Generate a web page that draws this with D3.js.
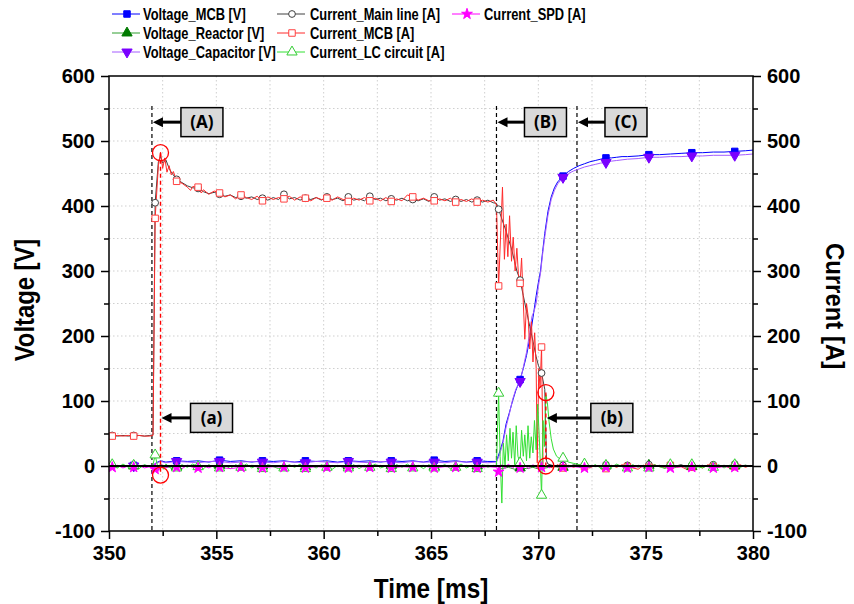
<!DOCTYPE html>
<html>
<head>
<meta charset="utf-8">
<script src="https://cdn.jsdelivr.net/npm/d3@7"></script>
<style>
  html, body { margin: 0; padding: 0; background: #ffffff; }
  svg { display: block; }
</style>
</head>
<body>
<svg id="chart" width="854" height="604"></svg>
<script>
// ---------- data: [time ms, value] ----------
const voltageMCB = [
  [350.0,0],[350.15,1],[350.65,0],[351.15,1],[351.65,0],[352.05,1],[352.2,5],[352.4,8],[352.65,6],[353.15,8],[353.65,7],[354.15,8],[354.65,6],
  [355.15,9],[355.65,7],[356.15,8],[356.65,6],[357.15,8],[357.65,7],[358.15,8],[358.65,6],[359.15,8],[359.65,7],[360.15,8],[360.65,6],
  [361.15,8],[361.65,7],[362.15,8],[362.65,6],[363.15,8],[363.65,7],[364.15,8],[364.65,6],[365.15,9],[365.65,7],[366.15,8],[366.65,6],
  [367.15,8],[367.65,7],[368.05,7],[368.2,22],[368.35,38],[368.5,65],[368.65,82],[368.8,100],[368.95,116],[369.15,133],[369.3,150],
  [369.45,170],[369.6,196],[369.75,228],[369.9,262],[370.0,282],[370.1,300],[370.2,330],[370.3,358],[370.45,392],[370.6,414],[370.75,428],
  [370.9,437],[371.15,446],[371.4,453],[371.65,458],[371.9,462],[372.15,465],[372.4,468],[372.65,470],[372.9,472],[373.15,474],[373.4,474],
  [373.65,475],[373.9,476],[374.15,476],[374.65,477],[375.15,479],[375.65,479],[376.15,480],[376.65,481],[377.15,482],[377.65,482],
  [378.15,483],[378.65,483],[379.15,484],[379.65,485],[380.0,486]
];
const voltageReactor = [
  [350.0,0],[350.15,0],[350.65,-1],[351.15,0],[351.65,1],[352.15,0],[352.65,-2],[353.15,-1],[353.65,1],[354.15,0],[354.65,-1],[355.15,1],
  [355.65,0],[356.15,-1],[356.65,1],[357.15,0],[357.65,-1],[358.15,0],[358.65,1],[359.15,-1],[359.65,0],[360.15,1],[360.65,-1],[361.15,0],
  [361.65,1],[362.15,-1],[362.65,0],[363.15,1],[363.65,-1],[364.15,0],[364.65,1],[365.15,-1],[365.65,0],[366.15,1],[366.65,-1],[367.15,0],
  [367.65,1],[368.05,0],[368.3,-4],[368.6,-2],[368.9,-5],[369.15,-3],[369.45,-4],[369.75,-2],[370.05,-5],[370.35,-3],[370.65,-1],[371.15,-2],
  [371.65,0],[372.15,1],[372.65,-1],[373.15,0],[373.65,1],[374.15,-1],[374.65,0],[375.15,1],[375.65,-1],[376.15,0],[376.65,1],[377.15,-1],
  [377.65,0],[378.15,1],[378.65,-1],[379.15,0],[379.65,1],[380.0,0]
];
const voltageCapacitor = [
  [350.0,0],[350.15,-1],[350.65,1],[351.15,0],[351.65,1],[352.05,0],[352.2,4],[352.4,7],[352.65,5],[353.15,7],[353.65,6],[354.15,5],[354.65,7],
  [355.15,7],[355.65,5],[356.15,6],[356.65,7],[357.15,6],[357.65,5],[358.15,7],[358.65,6],[359.15,5],[359.65,7],[360.15,6],[360.65,5],
  [361.15,7],[361.65,6],[362.15,5],[362.65,7],[363.15,6],[363.65,5],[364.15,7],[364.65,6],[365.15,6],[365.65,5],[366.15,7],[366.65,6],
  [367.15,6],[367.65,5],[368.05,6],[368.2,18],[368.35,35],[368.5,60],[368.65,80],[368.8,102],[368.95,118],[369.15,130],[369.3,152],
  [369.45,175],[369.6,205],[369.7,230],[369.8,238],[369.9,250],[370.0,276],[370.1,296],[370.2,326],[370.3,352],[370.45,386],[370.6,410],
  [370.75,424],[370.9,434],[371.15,444],[371.4,450],[371.65,454],[371.9,457],[372.15,460],[372.4,462],[372.65,464],[372.9,466],[373.15,467],
  [373.4,469],[373.65,470],[373.9,471],[374.15,472],[374.65,473],[375.15,475],[375.65,475],[376.15,476],[376.65,476],[377.15,477],
  [377.65,477],[378.15,478],[378.65,478],[379.15,478],[379.65,479],[380.0,480]
];
const currentMainLine = [
  [350.0,47],[350.15,47],[350.4,46],[350.65,47],[350.9,46],[351.15,47],[351.4,47],[351.65,46],[351.9,47],[352.05,48],[352.15,405],[352.3,468],
  [352.4,476],[352.5,466],[352.65,471],[352.8,458],[352.9,452],[353.15,441],[353.4,436],[353.65,431],[353.9,428],[354.15,427],[354.4,422],
  [354.65,419],[354.9,421],[355.15,418],[355.4,415],[355.65,417],[355.9,413],[356.15,415],[356.4,412],[356.65,414],[356.9,410],[357.15,412],
  [357.4,409],[357.65,413],[357.9,410],[358.15,418],[358.4,411],[358.65,413],[358.9,409],[359.15,412],[359.4,410],[359.65,413],[359.9,409],
  [360.15,414],[360.4,410],[360.65,412],[360.9,408],[361.15,414],[361.4,409],[361.65,411],[361.9,408],[362.15,415],[362.4,410],[362.65,412],
  [362.9,408],[363.15,411],[363.4,409],[363.65,412],[363.9,408],[364.15,410],[364.4,408],[364.65,411],[364.9,407],[365.15,414],[365.4,409],
  [365.65,411],[365.9,407],[366.15,410],[366.4,407],[366.65,410],[366.9,406],[367.15,409],[367.4,406],[367.65,409],[367.9,405],[368.05,404],
  [368.15,395],[368.3,380],[368.45,366],[368.6,350],[368.75,334],[368.9,314],[369.0,300],[369.15,286],[369.3,262],[369.45,238],[369.6,215],
  [369.75,192],[369.9,168],[370.0,155],[370.15,143],[370.3,118],[370.38,8],[370.45,3],[370.65,1],[370.9,-1],[371.15,1],[371.4,-1],[371.65,2],
  [371.9,0],[372.15,1],[372.4,-1],[372.65,1],[372.9,0],[373.15,2],[373.4,-1],[373.65,1],[373.9,0],[374.15,1],[374.4,-2],[374.65,1],[374.9,0],
  [375.15,2],[375.4,0],[375.65,1],[375.9,-1],[376.15,1],[376.4,0],[376.65,2],[376.9,-1],[377.15,1],[377.4,0],[377.65,1],[377.9,-1],[378.15,2],
  [378.4,0],[378.65,1],[378.9,0],[379.15,3],[379.4,0],[379.65,1],[379.9,0],[380.0,1]
];
const currentMCB = [
  [350.0,47],[350.15,46],[350.4,47],[350.65,46],[350.9,47],[351.15,46],[351.4,47],[351.65,46],[351.9,46],[352.05,47],[352.15,381],[352.3,462],
  [352.4,483],[352.5,458],[352.6,474],[352.7,452],[352.8,462],[352.9,448],[353.0,453],[353.15,438],[353.4,435],[353.65,429],[353.8,424],
  [353.9,430],[354.15,429],[354.3,420],[354.4,425],[354.65,418],[354.9,423],[355.15,420],[355.4,414],[355.65,417],[355.9,411],[356.15,417],
  [356.4,413],[356.65,410],[356.9,415],[357.15,408],[357.4,414],[357.65,410],[357.9,413],[358.15,411],[358.4,415],[358.65,409],[358.9,414],
  [359.15,412],[359.4,408],[359.65,413],[359.9,410],[360.15,412],[360.4,409],[360.65,414],[360.9,410],[361.15,407],[361.4,412],[361.65,409],
  [361.9,413],[362.15,408],[362.4,412],[362.65,408],[362.9,413],[363.15,407],[363.4,411],[363.65,408],[363.9,417],[364.15,414],[364.4,409],
  [364.65,412],[364.9,408],[365.15,408],[365.4,411],[365.65,408],[365.9,412],[366.15,406],[366.4,410],[366.65,407],[366.9,411],[367.15,406],
  [367.4,409],[367.65,406],[367.9,409],[368.05,402],[368.15,277],[368.25,362],[368.33,429],[368.42,318],[368.5,372],[368.58,322],[368.66,385],
  [368.75,315],[368.83,352],[368.92,300],[369.0,335],[369.07,296],[369.15,281],[369.22,320],[369.3,252],[369.37,195],[369.45,250],[369.52,232],
  [369.6,180],[369.68,222],[369.75,160],[369.83,205],[369.9,150],[369.95,5],[370.02,150],[370.08,120],[370.15,183],[370.22,2],[370.3,-2],
  [370.45,1],[370.65,-3],[370.9,2],[371.15,-3],[371.4,1],[371.65,-2],[371.9,2],[372.15,-1],[372.4,-3],[372.65,1],[372.9,-2],[373.15,-4],
  [373.4,1],[373.65,-2],[373.9,2],[374.15,-1],[374.4,-3],[374.65,-5],[374.9,1],[375.15,-2],[375.4,2],[375.65,-1],[375.9,-3],[376.15,1],
  [376.4,-2],[376.65,-1],[376.9,-5],[377.15,-2],[377.4,1],[377.65,-3],[377.9,2],[378.15,-1],[378.4,-2],[378.65,1],[378.9,-3],[379.15,-1],
  [379.4,2],[379.65,-2],[379.9,1],[380.0,0]
];
const currentLC = [
  [350.0,1],[350.15,2],[350.4,-3],[350.65,3],[350.9,-2],[351.15,1],[351.4,-4],[351.65,2],[351.9,-1],[352.05,2],[352.15,17],[352.3,-6],
  [352.4,4],[352.55,-5],[352.65,3],[352.9,-4],[353.15,-3],[353.4,2],[353.65,-2],[353.9,3],[354.15,-1],[354.4,-4],[354.65,2],[354.9,-2],
  [355.15,-3],[355.4,1],[355.65,-4],[355.9,2],[356.15,-2],[356.4,3],[356.65,-3],[356.9,1],[357.15,-4],[357.4,2],[357.65,-1],[357.9,-4],
  [358.15,-3],[358.4,2],[358.65,-2],[358.9,3],[359.15,-4],[359.4,1],[359.65,-3],[359.9,2],[360.15,-2],[360.4,-5],[360.65,1],[360.9,-2],
  [361.15,-3],[361.4,2],[361.65,-4],[361.9,1],[362.15,-2],[362.4,3],[362.65,-3],[362.9,0],[363.15,-4],[363.4,2],[363.65,-2],[363.9,3],
  [364.15,-3],[364.4,1],[364.65,-4],[364.9,2],[365.15,-3],[365.4,-1],[365.65,2],[365.9,-4],[366.15,-2],[366.4,3],[366.65,-3],[366.9,1],
  [367.15,-4],[367.4,2],[367.65,-2],[367.9,1],[368.05,0],[368.1,60],[368.15,112],[368.22,15],[368.3,-57],[368.37,35],[368.45,0],[368.52,48],
  [368.6,8],[368.68,58],[368.75,12],[368.82,52],[368.9,2],[368.97,62],[369.05,15],[369.15,5],[369.22,55],[369.3,15],[369.37,48],[369.45,8],
  [369.52,62],[369.6,12],[369.67,45],[369.75,20],[369.82,70],[369.9,25],[369.97,95],[370.05,40],[370.15,-45],[370.22,70],[370.28,30],
  [370.35,110],[370.42,98],[370.5,68],[370.6,42],[370.7,26],[370.85,15],[371.0,11],[371.15,12],[371.4,6],[371.65,4],[371.9,2],[372.15,3],
  [372.4,-2],[372.65,2],[372.9,-3],[373.15,1],[373.4,-2],[373.65,3],[373.9,-1],[374.15,-3],[374.4,2],[374.65,-2],[374.9,1],[375.15,-3],
  [375.4,2],[375.65,-1],[375.9,-4],[376.15,2],[376.4,-2],[376.65,1],[376.9,-3],[377.15,2],[377.4,-1],[377.65,-3],[377.9,1],[378.15,-2],
  [378.4,2],[378.65,-3],[378.9,1],[379.15,2],[379.4,-2],[379.65,1],[379.9,-1],[380.0,0]
];
const currentSPD = [
  [350.0,-1],[350.15,-2],[350.4,1],[350.65,-3],[350.9,0],[351.15,-2],[351.4,1],[351.65,-3],[351.9,-1],[352.05,-2],[352.15,-5],[352.3,-8],
  [352.45,2],[352.65,-3],[352.9,1],[353.15,-2],[353.4,-4],[353.65,1],[353.9,-2],[354.15,-3],[354.4,0],[354.65,-3],[354.9,1],[355.15,-2],
  [355.65,-4],[356.15,-2],[356.65,0],[357.15,-3],[357.65,-1],[358.15,-2],[358.65,1],[359.15,-3],[359.65,-1],[360.15,-2],[360.65,0],
  [361.15,-3],[361.65,-1],[362.15,-2],[362.65,1],[363.15,-3],[363.65,-1],[364.15,-2],[364.65,0],[365.15,-3],[365.65,-1],[366.15,-2],
  [366.65,1],[367.15,-3],[367.65,-1],[368.05,-2],[368.15,-9],[368.3,2],[368.45,-4],[368.6,3],[368.8,-3],[369.0,2],[369.15,-3],[369.35,1],
  [369.55,-4],[369.75,2],[369.95,-3],[370.15,-2],[370.35,1],[370.5,-3],[370.65,0],[371.15,-2],[371.65,-1],[372.15,-3],[372.65,0],
  [373.15,-2],[373.65,1],[374.15,-3],[374.65,-1],[375.15,-2],[375.65,0],[376.15,-3],[376.65,-1],[377.15,-2],[377.65,1],[378.15,-3],
  [378.65,-1],[379.15,-2],[379.65,0],[380.0,-1]
];

// axis ranges and ticks
const timeDomain = [350, 380];
const valueDomain = [-100, 600];
const timeTicks = [350, 355, 360, 365, 370, 375, 380];
const timeMinorTicks = [352.5, 357.5, 362.5, 367.5, 372.5, 377.5];
const valueTicks = [-100, 0, 100, 200, 300, 400, 500, 600];
const valueMinorTicks = [-50, 50, 150, 250, 350, 450, 550];

// event markers
const eventTimes = [352.0, 368.05, 371.8];            // black dashed lines (A), (B), (C)
const highlightTimes = [352.4, 370.35];                 // red dashed lines (a), (b)
const highlightTop = [482, 113];                        // red circles: upper value
const highlightBottom = [-14, 0];                       // red circles: lower value
const calloutLabels = ["(A)", "(a)", "(B)", "(C)", "(b)"];
const calloutTimes = [352.0, 352.4, 368.05, 371.8, 370.35];
const calloutValues = [529, 74, 529, 529, 74];

// legend / series definitions
const seriesNames = ["Voltage_MCB [V]", "Voltage_Reactor [V]", "Voltage_Capacitor [V]",
                     "Current_Main line [A]", "Current_MCB [A]", "Current_LC circuit [A]", "Current_SPD [A]"];
const seriesData = [voltageMCB, voltageReactor, voltageCapacitor, currentMainLine, currentMCB, currentLC, currentSPD];

// ---------- styling ----------
const styles = [
  { line: "#0000ff", shape: "square",  fill: "#0000ff", stroke: "#0000ff", axis: "left",  markStart: 351.15, markStep: 2 },
  { line: "#2e9e2e", shape: "triUp",   fill: "#007a00", stroke: "#007a00", axis: "left",  markStart: 351.15, markStep: 2 },
  { line: "#a45cff", shape: "triDown", fill: "#7a00ff", stroke: "#7a00ff", axis: "left",  markStart: 351.15, markStep: 2 },
  { line: "#404040", shape: "circle",  fill: "#ffffff", stroke: "#404040", axis: "right", markStart: 350.15, markStep: 1 },
  { line: "#ff2a2a", shape: "square",  fill: "#ffffff", stroke: "#ff4040", axis: "right", markStart: 350.15, markStep: 1 },
  { line: "#33e033", shape: "triUp",   fill: "#ffffff", stroke: "#33cc33", axis: "right", markStart: 350.15, markStep: 1 },
  { line: "#ff00ff", shape: "star",    fill: "#ff00ff", stroke: "#ff00ff", axis: "right", markStart: 350.15, markStep: 1 }
];
const legendCols = [[112, 143], [277, 310], [452, 484]];
const legendRows = [14, 33, 52];
const legendSlots = [[0,0],[0,1],[0,2],[1,0],[1,1],[1,2],[2,0]];
const calloutGap = [29, 30, 28, 28, 45];

const plot = { left: 109, right: 753, top: 76, bottom: 531 };

const svg = d3.select("#chart");
const x = d3.scaleLinear().domain(timeDomain).range([plot.left, plot.right]);
const yV = d3.scaleLinear().domain(valueDomain).range([plot.bottom, plot.top]);
const yA = d3.scaleLinear().domain(valueDomain).range([plot.bottom, plot.top]);
const yFor = s => s.axis === "left" ? yV : yA;

const FONT = "'Liberation Sans', Arial, Helvetica, sans-serif";

// squeeze a text run horizontally to mimic a narrow face
function condense(sel, k) {
  sel.each(function () {
    const w = this.getComputedTextLength();
    d3.select(this).attr("textLength", w * k).attr("lengthAdjust", "spacingAndGlyphs");
  });
}

function symbolPath(shape, size) {
  const map = { square: d3.symbolSquare, triUp: d3.symbolTriangle, triDown: d3.symbolTriangle,
                circle: d3.symbolCircle, star: d3.symbolStar };
  return d3.symbol().type(map[shape]).size(size)();
}
const markSize = { square: 42, triUp: 46, triDown: 46, circle: 36, star: 36 };

svg.append("defs").append("clipPath").attr("id", "plotClip")
  .append("rect").attr("x", plot.left).attr("y", plot.top)
  .attr("width", plot.right - plot.left).attr("height", plot.bottom - plot.top);

// grid
const grid = svg.append("g").attr("stroke", "#cfcfcf").attr("stroke-width", 1).attr("stroke-dasharray", "1.5,2.5");
const gx = [...timeTicks, ...timeMinorTicks].filter(t => t > timeDomain[0] && t < timeDomain[1]);
const gy = [...valueTicks, ...valueMinorTicks].filter(v => v > valueDomain[0] && v < valueDomain[1] && v !== 0);
grid.selectAll("line.gx").data(gx).join("line").attr("class", "gx")
  .attr("x1", d => x(d)).attr("x2", d => x(d)).attr("y1", plot.top).attr("y2", plot.bottom);
grid.selectAll("line.gy").data(gy).join("line").attr("class", "gy")
  .attr("x1", plot.left).attr("x2", plot.right).attr("y1", d => yV(d)).attr("y2", d => yV(d));

// event dashed lines
svg.append("g").selectAll("line").data(eventTimes).join("line")
  .attr("x1", d => x(d)).attr("x2", d => x(d))
  .attr("y1", plot.top + 30).attr("y2", plot.bottom)
  .attr("stroke", "#000").attr("stroke-width", 1.2).attr("stroke-dasharray", "4,3");

// series lines
const lineGen = s => d3.line().x(d => x(d[0])).y(d => yFor(s)(d[1]));
const plotArea = svg.append("g").attr("clip-path", "url(#plotClip)");
seriesData.forEach((data, i) => {
  const s = styles[i];
  plotArea.append("path").datum(data)
    .attr("fill", "none").attr("stroke", s.line).attr("stroke-width", 1)
    .attr("stroke-linejoin", "round").attr("d", lineGen(s));
});

// zero reference line
svg.append("line").attr("x1", plot.left).attr("x2", plot.right)
  .attr("y1", yV(0)).attr("y2", yV(0)).attr("stroke", "#000").attr("stroke-width", 2);

// markers
function isMarked(t, s) {
  const k = (t - s.markStart) / s.markStep;
  return k > -1e-6 && Math.abs(k - Math.round(k)) < 1e-6;
}
seriesData.forEach((data, i) => {
  const s = styles[i];
  plotArea.append("g").selectAll("path").data(data.filter(d => isMarked(d[0], s))).join("path")
    .attr("transform", d => `translate(${x(d[0])},${yFor(s)(d[1])})` + (s.shape === "triDown" ? " rotate(180)" : ""))
    .attr("d", symbolPath(s.shape, markSize[s.shape]))
    .attr("fill", s.fill).attr("stroke", s.stroke).attr("stroke-width", 1);
});

// red highlight lines and circles
const hl = svg.append("g");
highlightTimes.forEach((t, i) => {
  hl.append("line").attr("x1", x(t)).attr("x2", x(t))
    .attr("y1", yA(highlightTop[i])).attr("y2", yA(highlightBottom[i]))
    .attr("stroke", "#ff0000").attr("stroke-width", 1.4).attr("stroke-dasharray", "4,3");
  [highlightTop[i], highlightBottom[i]].forEach(v => {
    hl.append("circle").attr("cx", x(t)).attr("cy", yA(v)).attr("r", 8)
      .attr("fill", "none").attr("stroke", "#ff0000").attr("stroke-width", 1.3);
  });
});

// callouts
const co = svg.append("g");
calloutLabels.forEach((lab, i) => {
  const tipX = x(calloutTimes[i]);
  const cy = yV(calloutValues[i]);
  const bx = tipX + calloutGap[i];
  co.append("line").attr("x1", bx).attr("x2", tipX + 9).attr("y1", cy).attr("y2", cy)
    .attr("stroke", "#000").attr("stroke-width", 3);
  co.append("path").attr("d", `M${tipX + 1},${cy} L${tipX + 11},${cy - 5} L${tipX + 11},${cy + 5} Z`).attr("fill", "#000");
  co.append("rect").attr("x", bx).attr("y", cy - 14.5).attr("width", 42).attr("height", 29)
    .attr("fill", "#d9d9d9").attr("stroke", "#000").attr("stroke-width", 1.5);
  co.append("text").attr("x", bx + 21).attr("y", cy + 6).attr("text-anchor", "middle")
    .attr("font-family", "'Noto Sans', 'Open Sans', sans-serif").attr("font-weight", "bold")
    .attr("font-size", 17).text(lab);
});

// axes
function styleAxis(g) {
  g.selectAll(".domain").remove();
  g.selectAll("line").attr("stroke", "#000").attr("stroke-width", 1.5);
  g.selectAll("text").attr("font-family", FONT).attr("font-weight", "bold").attr("font-size", 20).attr("fill", "#000");
}
const fmt = d => String(d);
svg.append("g").attr("transform", `translate(${plot.left},0)`)
  .call(d3.axisLeft(yV).tickValues(valueTicks).tickFormat(fmt).tickSize(8).tickPadding(6)).call(styleAxis);
svg.append("g").attr("transform", `translate(${plot.left},0)`)
  .call(d3.axisLeft(yV).tickValues(valueMinorTicks).tickFormat("").tickSize(5)).call(styleAxis);
svg.append("g").attr("transform", `translate(${plot.right},0)`)
  .call(d3.axisRight(yA).tickValues(valueTicks).tickFormat(fmt).tickSize(8).tickPadding(6)).call(styleAxis);
svg.append("g").attr("transform", `translate(${plot.right},0)`)
  .call(d3.axisRight(yA).tickValues(valueMinorTicks).tickFormat("").tickSize(5)).call(styleAxis);
svg.append("g").attr("transform", `translate(0,${plot.bottom})`)
  .call(d3.axisBottom(x).tickValues(timeTicks).tickFormat(fmt).tickSize(8).tickPadding(7)).call(styleAxis);
svg.append("g").attr("transform", `translate(0,${plot.bottom})`)
  .call(d3.axisBottom(x).tickValues(timeMinorTicks).tickFormat("").tickSize(5)).call(styleAxis);

// frame
svg.append("rect").attr("x", plot.left).attr("y", plot.top)
  .attr("width", plot.right - plot.left).attr("height", plot.bottom - plot.top)
  .attr("fill", "none").attr("stroke", "#000").attr("stroke-width", 1.5);

// axis titles
const titles = svg.append("g").attr("font-family", FONT).attr("font-weight", "bold").attr("fill", "#000");
titles.append("text").attr("transform", "translate(34,300) rotate(-90)").attr("font-size", 28)
  .attr("text-anchor", "middle").text("Voltage [V]").call(condense, 0.85);
titles.append("text").attr("transform", "translate(826,306) rotate(90)").attr("font-size", 26)
  .attr("text-anchor", "middle").text("Current [A]").call(condense, 0.92);
titles.append("text").attr("x", 431).attr("y", 598).attr("font-size", 28)
  .attr("text-anchor", "middle").text("Time [ms]").call(condense, 0.87);

// legend
const lg = svg.append("g");
seriesNames.forEach((name, i) => {
  const s = styles[i];
  const [c, r] = legendSlots[i];
  const [lx, tx] = legendCols[c];
  const ly = legendRows[r];
  lg.append("line").attr("x1", lx).attr("x2", lx + 28).attr("y1", ly).attr("y2", ly)
    .attr("stroke", s.line).attr("stroke-width", 1);
  lg.append("path").attr("transform", `translate(${lx + 15},${ly})` + (s.shape === "triDown" ? " rotate(180)" : ""))
    .attr("d", symbolPath(s.shape, markSize[s.shape]))
    .attr("fill", s.fill).attr("stroke", s.stroke).attr("stroke-width", 1);
  lg.append("text").attr("x", tx).attr("y", ly + 6)
    .attr("font-family", FONT).attr("font-weight", "bold").attr("font-size", 16.5).attr("fill", "#000")
    .text(name).call(condense, 0.78);
});
</script>
</body>
</html>
